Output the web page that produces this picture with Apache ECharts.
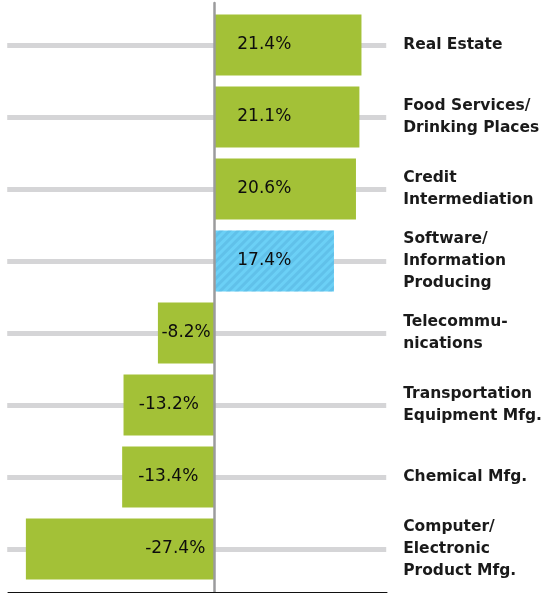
<!DOCTYPE html>
<html>
<head>
<meta charset="utf-8">
<script src="https://cdn.jsdelivr.net/npm/echarts@6/dist/echarts.min.js"></script>
<style>
html,body{margin:0;padding:0;background:#fff;}
#chart{width:545px;height:593px;}
</style>
</head>
<body>
<div id="chart"></div>
<script>
const categories = [
  "Real Estate",
  "Food Services/\nDrinking Places",
  "Credit\nIntermediation",
  "Software/\nInformation\nProducing",
  "Telecommu-\nnications",
  "Transportation\nEquipment Mfg.",
  "Chemical Mfg.",
  "Computer/\nElectronic\nProduct Mfg."
];
const values = [21.4, 21.1, 20.6, 17.4, -8.2, -13.2, -13.4, -27.4];
const highlighted = [false, false, false, true, false, false, false, false];

const FONT = "'DejaVu Sans', sans-serif";
const green = '#a3c137';
const blue = '#6bd0f6';

const data = values.map((v, i) => {
  const item = { value: v };
  if (highlighted[i]) {
    item.itemStyle = {
      color: blue,
      decal: {
        symbol: 'rect',
        symbolSize: 1,
        color: 'rgba(80,170,215,0.4)',
        dashArrayX: [1, 0],
        dashArrayY: [2.5, 2.5],
        rotation: -Math.PI / 4
      }
    };
  }
  let label;
  if (v >= 0) {
    label = { position: 'insideLeft', distance: 23 };
  } else if (v < -20) {
    label = { position: 'insideRight', distance: 9 };
  } else {
    label = { position: 'inside' };
  }
  item.label = label;
  return item;
});

const chart = echarts.init(document.getElementById('chart'));
chart.setOption({
  animation: false,
  grid: [
    { left: 8, right: 158, top: 9, height: 576, containLabel: false },
    { left: 8, right: 158, top: 3, bottom: 1, containLabel: false }
  ],
  xAxis: [
    { gridIndex: 0, type: 'value', min: -30, max: 25,
      axisLine: { show: false }, axisTick: { show: false },
      axisLabel: { show: false }, splitLine: { show: false } },
    { gridIndex: 1, type: 'value', min: -30, max: 25, position: 'bottom', z: 5,
      axisLine: { show: true, onZero: false, lineStyle: { color: '#111', width: 1 } },
      axisTick: { show: false }, axisLabel: { show: false }, splitLine: { show: false } }
  ],
  yAxis: [
    { gridIndex: 0, type: 'category', data: categories, inverse: true, position: 'right',
      axisLine: { show: false, onZero: false },
      axisTick: { show: true, inside: true, length: 379, alignWithLabel: true,
        lineStyle: { color: '#d5d5d7', width: 5 } },
      axisLabel: { margin: 17, align: 'left', color: '#1a1a1a', fontFamily: FONT,
        fontSize: 15.5, fontWeight: 'bold', lineHeight: 22, padding: [5, 0, 0, 0] },
      splitLine: { show: false } },
    { gridIndex: 1, type: 'value', min: 0, max: 1, z: 5,
      axisLine: { show: true, onZero: true, lineStyle: { color: '#9b9b9d', width: 2.5 } },
      axisTick: { show: false }, axisLabel: { show: false }, splitLine: { show: false } }
  ],
  series: [{
    type: 'bar',
    xAxisIndex: 0,
    yAxisIndex: 0,
    data: data,
    barCategoryGap: '15%',
    itemStyle: { color: green },
    label: {
      show: true,
      formatter: p => p.value.toFixed(1) + '%',
      color: '#0d0d0d',
      fontFamily: FONT,
      fontSize: 17,
      padding: [3, 0, 0, 0]
    }
  }]
});
</script>
</body>
</html>
